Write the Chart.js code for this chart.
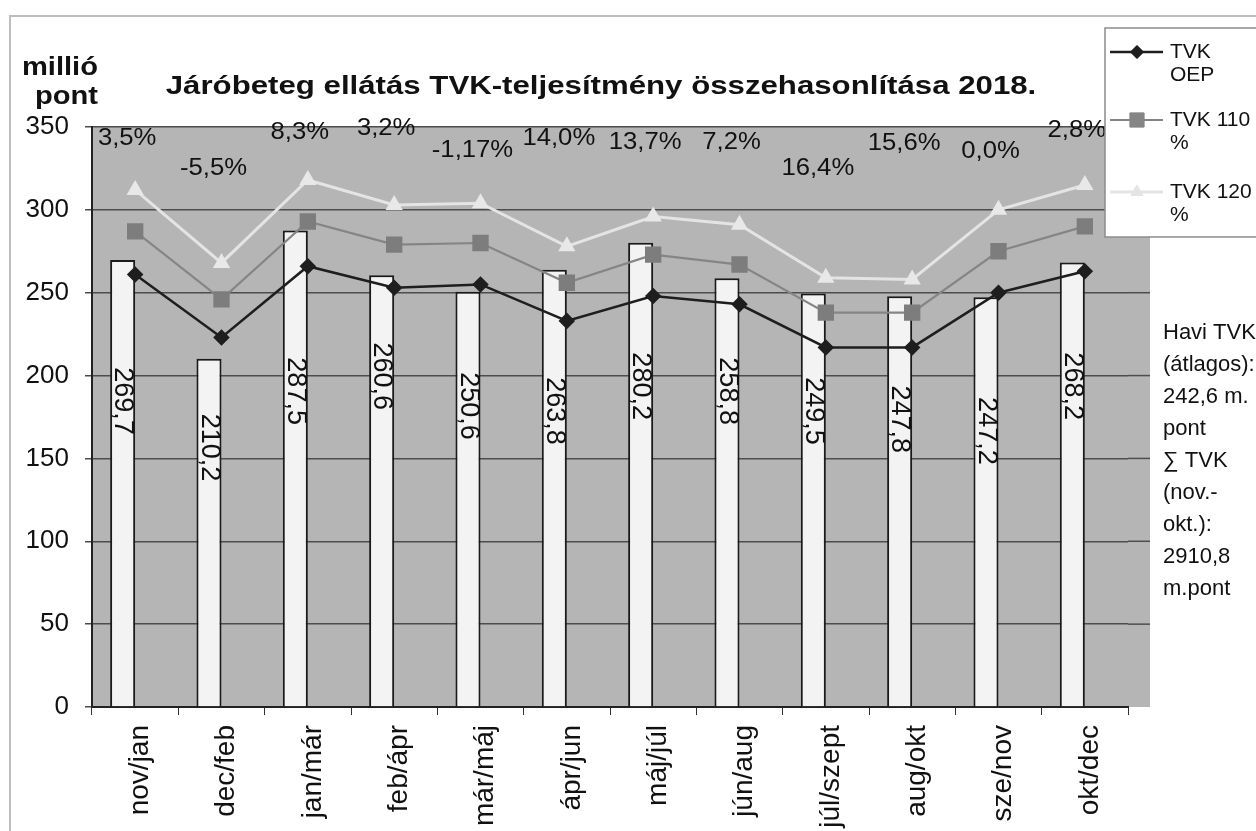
<!DOCTYPE html>
<html><head><meta charset="utf-8">
<script src="https://cdn.jsdelivr.net/npm/chart.js@4.4.1/dist/chart.umd.min.js"></script>
<style>html,body{margin:0;padding:0;background:#fff;overflow:hidden}canvas{display:block}</style>
</head><body>
<canvas id="c" width="1256" height="831"></canvas>
<script>
const categories = ['nov/jan','dec/feb','jan/már','feb/ápr','már/máj','ápr/jun','máj/júl','jún/aug','júl/szept','aug/okt','sze/nov','okt/dec'];
const tvkValues = [269.7,210.2,287.5,260.6,250.6,263.8,280.2,258.8,249.5,247.8,247.2,268.2];
const zeroValues = [0,0,0,0,0,0,0,0,0,0,0,0];
const oepValues = [261,223,266,253,255,233,248,243,217,217,250,263];
const tvk110Values = [287,246,293,279,280,256,273,267,238,238,275,290];
const tvk120Values = [312,268,318,303,304,278,296,291,259,258,300,315];
const changeLabels = ['3,5%','-5,5%','8,3%','3,2%','-1,17%','14,0%','13,7%','7,2%','16,4%','15,6%','0,0%','2,8%'];
const barValueLabels = ['269,7','210,2','287,5','260,6','250,6','263,8','280,2','258,8','249,5','247,8','247,2','268,2'];
const yTicks = [0,50,100,150,200,250,300,350];
const titleText = 'Járóbeteg ellátás TVK-teljesítmény összehasonlítása 2018.';
const yTitleLines = ['millió','pont'];
const sideNoteLines = ['Havi TVK','(átlagos):','242,6 m.','pont','\u2211 TVK','(nov.-','okt.):','2910,8','m.pont'];
const seriesNames = [['TVK','OEP'],['TVK 110','%'],['TVK 120','%']];
// label placement levels (axis units)
const changeLabelLevel = [343,325,347,349,336,343,341,341,325,340,335,348];
const barLabelTopLevel = [205,177,211,220,202,199,214,211,199,194,187,214];

const FONT = "'Liberation Sans', Arial, sans-serif";
const C_OEP = '#1e1e1e', C_110 = '#858585', C_120 = '#e4e4e4';

function stretchText(ctx, s, x, y, k, align, baseline) {
  ctx.save();
  ctx.translate(x, y);
  ctx.scale(k, 1);
  ctx.textAlign = align || 'left';
  ctx.textBaseline = baseline || 'alphabetic';
  ctx.fillText(s, 0, 0);
  ctx.restore();
}

const decor = {
  id: 'decor',
  beforeDraw(chart) {
    const {ctx, chartArea: a} = chart;
    ctx.save();
    ctx.fillStyle = '#b5b5b5';
    ctx.fillRect(a.left, a.top, a.right - a.left + 22, a.bottom - a.top);
    ctx.restore();
  },
  beforeDatasetsDraw(chart) {
    const {ctx, chartArea: a, scales: {y}} = chart;
    ctx.save();
    ctx.strokeStyle = '#4d4d4d';
    ctx.lineWidth = 1.5;
    yTicks.forEach(v => {
      if (v === 0) return;
      const py = y.getPixelForValue(v);
      ctx.beginPath(); ctx.moveTo(a.right, py); ctx.lineTo(a.right + 22, py); ctx.stroke();
    });
    ctx.restore();
  },
  afterDatasetDraw(chart, args) {
    if (args.index !== 0) return;
    const {ctx, scales: {y}} = chart;
    const meta = chart.getDatasetMeta(0);
    ctx.save();
    ctx.fillStyle = '#111';
    ctx.font = '27px ' + FONT;
    meta.data.forEach((bar, i) => {
      ctx.save();
      ctx.translate(bar.x, y.getPixelForValue(barLabelTopLevel[i]));
      ctx.rotate(Math.PI / 2);
      ctx.textAlign = 'left';
      ctx.textBaseline = 'middle';
      ctx.fillText(barValueLabels[i], 0, 0);
      ctx.restore();
    });
    ctx.restore();
  },
  afterDraw(chart) {
    const {ctx, scales: {x, y}} = chart;
    ctx.save();
    // percent labels
    ctx.fillStyle = '#111';
    ctx.font = '24px ' + FONT;
    changeLabels.forEach((s, i) => {
      stretchText(ctx, s, x.getPixelForValue(i) - 8, y.getPixelForValue(changeLabelLevel[i]), 1.07, 'center', 'middle');
    });
    // outer frame
    ctx.strokeStyle = '#bdbdbd';
    ctx.lineWidth = 2;
    ctx.beginPath(); ctx.moveTo(10, 831); ctx.lineTo(10, 16); ctx.lineTo(1256, 16); ctx.stroke();
    // title
    ctx.fillStyle = '#111';
    ctx.font = 'bold 26px ' + FONT;
    stretchText(ctx, titleText, 601, 94, 1.2, 'center');
    stretchText(ctx, yTitleLines[0], 98, 75, 1.12, 'right');
    stretchText(ctx, yTitleLines[1], 98, 104, 1.12, 'right');
    // legend box
    ctx.fillStyle = '#fff';
    ctx.fillRect(1105, 28, 160, 209);
    ctx.strokeStyle = '#8c8c8c';
    ctx.lineWidth = 1.5;
    ctx.strokeRect(1105, 28, 160, 209);
    const legendY = [52, 120, 192];
    const styles = [
      {c: C_OEP, w: 2.5, p: 'rectRot', r: 6.5},
      {c: C_110, w: 2.2, p: 'rect', r: 10},
      {c: C_120, w: 3, p: 'triangle', r: 7}
    ];
    styles.forEach((st, i) => {
      const ly = legendY[i];
      ctx.strokeStyle = st.c; ctx.lineWidth = st.w;
      ctx.beginPath(); ctx.moveTo(1110, ly); ctx.lineTo(1163, ly); ctx.stroke();
      ctx.fillStyle = st.c; ctx.strokeStyle = st.c; ctx.lineWidth = 1;
      Chart.helpers.drawPoint(ctx, {pointStyle: st.p, radius: st.r, borderWidth: 1, rotation: 0}, 1137, ly);
      ctx.fill();
      ctx.fillStyle = '#111';
      ctx.font = '21px ' + FONT;
      stretchText(ctx, seriesNames[i][0], 1170, ly, 1.0, 'left', 'middle');
      stretchText(ctx, seriesNames[i][1], 1170, ly + 23, 1.0, 'left', 'middle');
    });
    // side notes
    ctx.fillStyle = '#111';
    ctx.font = '22px ' + FONT;
    sideNoteLines.forEach((s, i) => stretchText(ctx, s, 1163, 333 + 32 * i, 1.0, 'left', 'middle'));
    ctx.restore();
  }
};

new Chart(document.getElementById('c').getContext('2d'), {
  type: 'bar',
  data: {
    labels: categories,
    datasets: [
      {type: 'bar', label: 'TVK', data: tvkValues, backgroundColor: '#f3f3f3', borderColor: '#1a1a1a', borderWidth: 2, categoryPercentage: 0.58, barPercentage: 1, order: 5},
      {type: 'bar', label: 'zero', data: zeroValues, backgroundColor: '#1a1a1a', borderColor: '#1a1a1a', borderWidth: 0, categoryPercentage: 0.58, barPercentage: 1, order: 5},
      {type: 'line', label: 'TVK 120 %', data: tvk120Values, borderColor: C_120, borderWidth: 3, pointStyle: 'triangle', pointRadius: 7, pointBackgroundColor: '#e8e8e8', pointBorderColor: '#e8e8e8', tension: 0, order: 3},
      {type: 'line', label: 'TVK 110 %', data: tvk110Values, borderColor: C_110, borderWidth: 2.2, pointStyle: 'rect', pointRadius: 10, pointBackgroundColor: '#7d7d7d', pointBorderColor: '#7d7d7d', tension: 0, order: 2},
      {type: 'line', label: 'TVK OEP', data: oepValues, borderColor: C_OEP, borderWidth: 2.5, pointStyle: 'rectRot', pointRadius: 6.5, pointBackgroundColor: C_OEP, pointBorderColor: C_OEP, tension: 0, order: 1}
    ]
  },
  options: {
    responsive: false,
    animation: false,
    devicePixelRatio: 1,
    layout: {padding: {left: 0, right: 128, top: 127, bottom: 0}},
    plugins: {legend: {display: false}, tooltip: {enabled: false}, title: {display: false}},
    scales: {
      x: {
        grid: {display: true, drawOnChartArea: false, drawTicks: true, tickLength: 8, color: '#333', offset: true},
        border: {display: true, color: '#222', width: 2},
        ticks: {autoSkip: false, maxRotation: 90, minRotation: 90, padding: 10, labelOffset: 5, color: '#111', font: {family: FONT, size: 28}},
        afterFit(s) { s.height = 124; }
      },
      y: {
        min: 0, max: 350,
        afterBuildTicks(s) { s.ticks = yTicks.map(v => ({value: v})); },
        grid: {color: '#4d4d4d', lineWidth: 1.5, tickLength: 7, drawTicks: true},
        border: {display: true, color: '#222', width: 2},
        ticks: {padding: 16, color: '#111', font: {family: FONT, size: 26}},
        afterFit(s) { s.width = 92; }
      }
    }
  },
  plugins: [decor]
});
</script>
</body></html>
